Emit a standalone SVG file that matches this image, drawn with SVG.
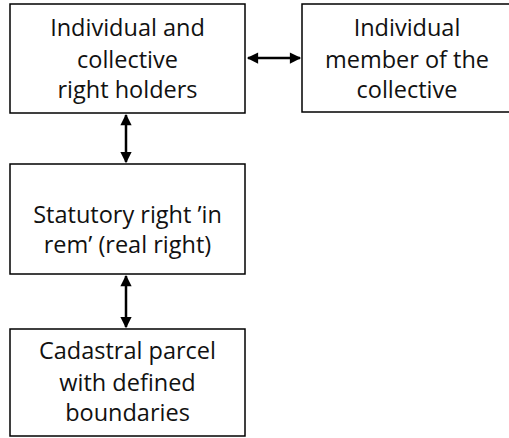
<svg xmlns="http://www.w3.org/2000/svg" width="509" height="438" viewBox="0 0 509 438">
<style>
.b{fill:#fff;stroke:#000;stroke-width:1.5}
text{font-family:"Open Sans","Liberation Sans",sans-serif;font-size:23.5px;fill:#111;text-anchor:middle}
.c line{stroke:#000;stroke-width:2.5}
</style>
<defs>
<marker id="a" viewBox="0 0 10 10" refX="9" refY="5" markerWidth="5" markerHeight="4.5" orient="auto-start-reverse" markerUnits="strokeWidth"><path d="M0,0L10,5L0,10z" fill="#000"/></marker>
</defs>
<rect x="0" y="0" width="509" height="438" fill="#fff"/>
<g id="n1"><rect class="b" x="10" y="4" width="235" height="109"/><text x="127.5" y="36">Individual and</text><text x="127.5" y="68">collective</text><text x="127.5" y="98">right holders</text></g>
<g id="n2"><rect class="b" x="302" y="4" width="212" height="108"/><text x="407" y="36">Individual</text><text x="407" y="68">member of the</text><text x="407" y="98">collective</text></g>
<g id="n3"><rect class="b" x="10" y="164" width="235" height="110"/><text x="127.5" y="223">Statutory right ’in</text><text x="127.5" y="253">rem’ (real right)</text></g>
<g id="n4"><rect class="b" x="10" y="329" width="235" height="107"/><text x="127.5" y="359">Cadastral parcel</text><text x="127.5" y="391">with defined</text><text x="127.5" y="421">boundaries</text></g>
<g class="c" id="connectors">
<line x1="248" y1="58" x2="300" y2="58" marker-start="url(#a)" marker-end="url(#a)"/>
<line x1="126" y1="115" x2="126" y2="162" marker-start="url(#a)" marker-end="url(#a)"/>
<line x1="126" y1="276" x2="126" y2="327" marker-start="url(#a)" marker-end="url(#a)"/>
</g>
</svg>
